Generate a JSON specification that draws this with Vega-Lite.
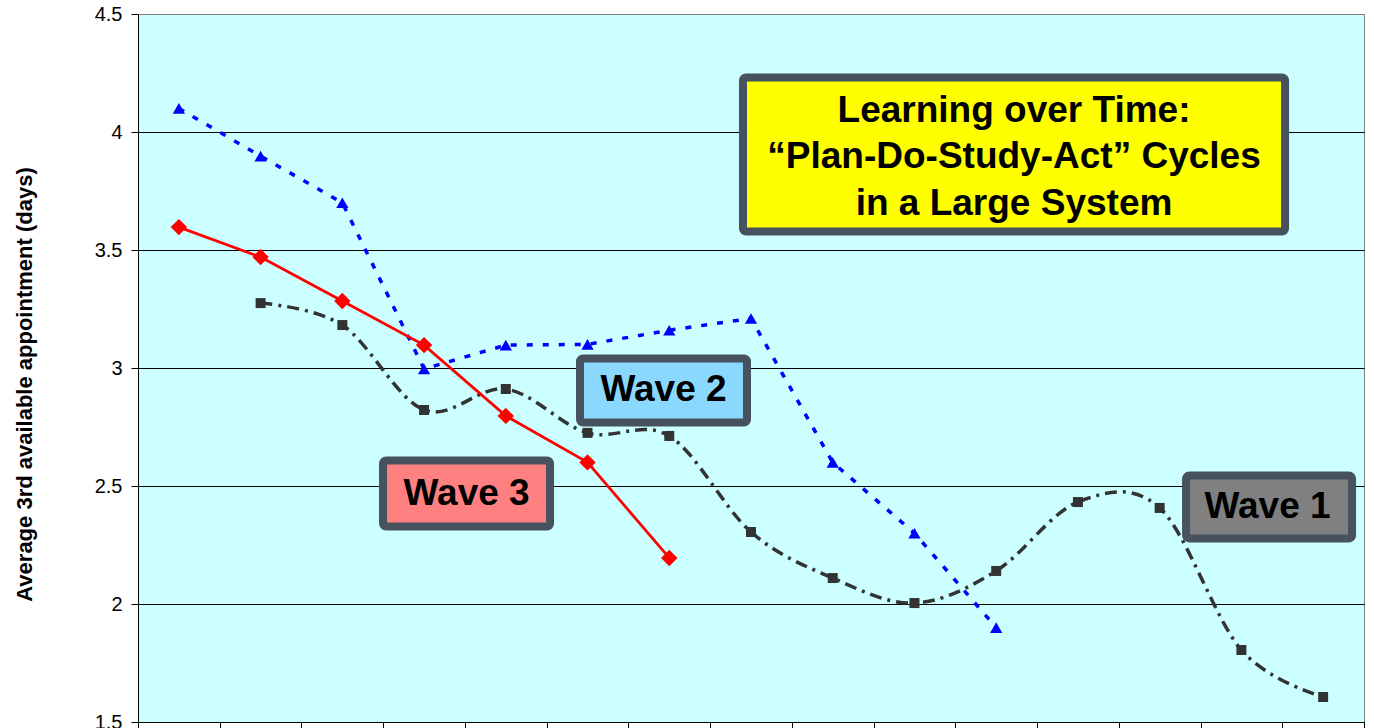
{
  "$schema": "https://vega.github.io/schema/vega-lite/v6.json",
  "width": 1226,
  "height": 708,
  "autosize": {"type": "none"},
  "padding": {"left": 138, "top": 14, "right": 10, "bottom": 6},
  "background": "white",
  "config": {
    "view": {"fill": "#CCFFFF", "stroke": "#808080", "strokeWidth": 1},
    "font": "Liberation Sans"
  },
  "datasets": {
    "series": [
      {"wave": "Wave 1", "x": 2, "y": 3.275},
      {"wave": "Wave 1", "x": 3, "y": 3.182},
      {"wave": "Wave 1", "x": 4, "y": 2.822},
      {"wave": "Wave 1", "x": 5, "y": 2.911},
      {"wave": "Wave 1", "x": 6, "y": 2.725},
      {"wave": "Wave 1", "x": 7, "y": 2.712},
      {"wave": "Wave 1", "x": 8, "y": 2.305},
      {"wave": "Wave 1", "x": 9, "y": 2.11},
      {"wave": "Wave 1", "x": 10, "y": 2.004},
      {"wave": "Wave 1", "x": 11, "y": 2.14},
      {"wave": "Wave 1", "x": 12, "y": 2.432},
      {"wave": "Wave 1", "x": 13, "y": 2.407},
      {"wave": "Wave 1", "x": 14, "y": 1.805},
      {"wave": "Wave 1", "x": 15, "y": 1.606},
      {"wave": "Wave 2", "x": 1, "y": 4.1},
      {"wave": "Wave 2", "x": 2, "y": 3.898},
      {"wave": "Wave 2", "x": 3, "y": 3.7},
      {"wave": "Wave 2", "x": 4, "y": 2.996},
      {"wave": "Wave 2", "x": 5, "y": 3.097},
      {"wave": "Wave 2", "x": 6, "y": 3.1},
      {"wave": "Wave 2", "x": 7, "y": 3.16},
      {"wave": "Wave 2", "x": 8, "y": 3.21},
      {"wave": "Wave 2", "x": 9, "y": 2.6},
      {"wave": "Wave 2", "x": 10, "y": 2.3},
      {"wave": "Wave 2", "x": 11, "y": 1.9},
      {"wave": "Wave 3", "x": 1, "y": 3.597},
      {"wave": "Wave 3", "x": 2, "y": 3.47},
      {"wave": "Wave 3", "x": 3, "y": 3.284},
      {"wave": "Wave 3", "x": 4, "y": 3.097},
      {"wave": "Wave 3", "x": 5, "y": 2.797},
      {"wave": "Wave 3", "x": 6, "y": 2.6},
      {"wave": "Wave 3", "x": 7, "y": 2.195}
    ],
    "boxes": [
      {"box": "title", "x1": 7.902, "x2": 14.534, "y1": 4.231, "y2": 3.578},
      {"box": "Wave 2", "x1": 5.908, "x2": 7.951, "y1": 3.04, "y2": 2.769},
      {"box": "Wave 3", "x1": 3.498, "x2": 5.541, "y1": 2.608, "y2": 2.328},
      {"box": "Wave 1", "x1": 13.323, "x2": 15.354, "y1": 2.544, "y2": 2.278}
    ],
    "labels": [
      {"text": "Learning over Time:", "x": 11.218, "y": 4.087},
      {"text": "“Plan-Do-Study-Act” Cycles", "x": 11.218, "y": 3.892},
      {"text": "in a Large System", "x": 11.218, "y": 3.697},
      {"text": "Wave 2", "x": 6.93, "y": 2.907},
      {"text": "Wave 3", "x": 4.52, "y": 2.464},
      {"text": "Wave 1", "x": 14.32, "y": 2.411}
    ]
  },
  "encoding": {
    "x": {
      "field": "x",
      "type": "quantitative",
      "scale": {"domain": [0.5, 15.5], "nice": false, "zero": false},
      "axis": {
        "values": [0.5, 1.5, 2.5, 3.5, 4.5, 5.5, 6.5, 7.5, 8.5, 9.5, 10.5, 11.5, 12.5, 13.5, 14.5, 15.5],
        "labels": false,
        "grid": false,
        "title": null,
        "domainColor": "black",
        "tickColor": "black",
        "tickSize": 7
      }
    },
    "y": {
      "field": "y",
      "type": "quantitative",
      "scale": {"domain": [1.5, 4.5], "nice": false, "zero": false},
      "axis": {
        "values": [1.5, 2, 2.5, 3, 3.5, 4, 4.5],
        "format": "~g",
        "grid": true,
        "gridColor": {"condition": {"test": "datum.value >= 4.5", "value": "#808080"}, "value": "black"},
        "gridOpacity": 1,
        "domainColor": "black",
        "tickColor": "black",
        "tickSize": 7,
        "labelFontSize": 20,
        "labelColor": "black",
        "labelPadding": 9,
        "title": "Average 3rd available appointment (days)",
        "titleFontSize": 22,
        "titleFontWeight": "bold",
        "titleColor": "black",
        "titleAngle": -90,
        "titleX": -114,
        "titleY": 370,
        "titleAlign": "center",
        "titleBaseline": "middle"
      }
    }
  },
  "layer": [
    {
      "data": {"name": "series"},
      "transform": [{"filter": "datum.wave === 'Wave 1'"}],
      "mark": {"type": "line", "interpolate": "cardinal", "color": "#333333", "strokeWidth": 3.5, "strokeDash": [12, 6, 3, 6]}
    },
    {
      "data": {"name": "series"},
      "transform": [{"filter": "datum.wave === 'Wave 1'"}],
      "mark": {"type": "point", "shape": "square", "filled": true, "size": 100, "color": "#333333", "opacity": 1}
    },
    {
      "data": {"name": "series"},
      "transform": [{"filter": "datum.wave === 'Wave 2'"}],
      "mark": {"type": "line", "color": "#0000FF", "strokeWidth": 3.5, "strokeDash": [6, 10]}
    },
    {
      "data": {"name": "series"},
      "transform": [{"filter": "datum.wave === 'Wave 2'"}],
      "mark": {"type": "point", "shape": "triangle-up", "filled": true, "size": 150, "color": "#0000FF", "opacity": 1}
    },
    {
      "data": {"name": "series"},
      "transform": [{"filter": "datum.wave === 'Wave 3'"}],
      "mark": {"type": "line", "color": "#FF0000", "strokeWidth": 2.75}
    },
    {
      "data": {"name": "series"},
      "transform": [{"filter": "datum.wave === 'Wave 3'"}],
      "mark": {"type": "point", "shape": "diamond", "filled": true, "size": 270, "color": "#FF0000", "opacity": 1}
    },
    {
      "data": {"name": "boxes"},
      "mark": {"type": "rect", "stroke": "#46535E", "strokeWidth": 8, "cornerRadius": 3, "strokeJoin": "round"},
      "encoding": {
        "x": {"field": "x1", "type": "quantitative"},
        "x2": {"field": "x2"},
        "y": {"field": "y1", "type": "quantitative"},
        "y2": {"field": "y2"},
        "fill": {
          "field": "box",
          "type": "nominal",
          "scale": {"domain": ["title", "Wave 1", "Wave 2", "Wave 3"], "range": ["#FFFF00", "#808080", "#8AD8FE", "#FF8080"]},
          "legend": null
        }
      }
    },
    {
      "data": {"name": "labels"},
      "mark": {"type": "text", "fontSize": 37, "fontWeight": "bold", "font": "Liberation Sans", "align": "center", "baseline": "middle", "color": "black"},
      "encoding": {
        "text": {"field": "text", "type": "nominal"}
      }
    }
  ]
}
